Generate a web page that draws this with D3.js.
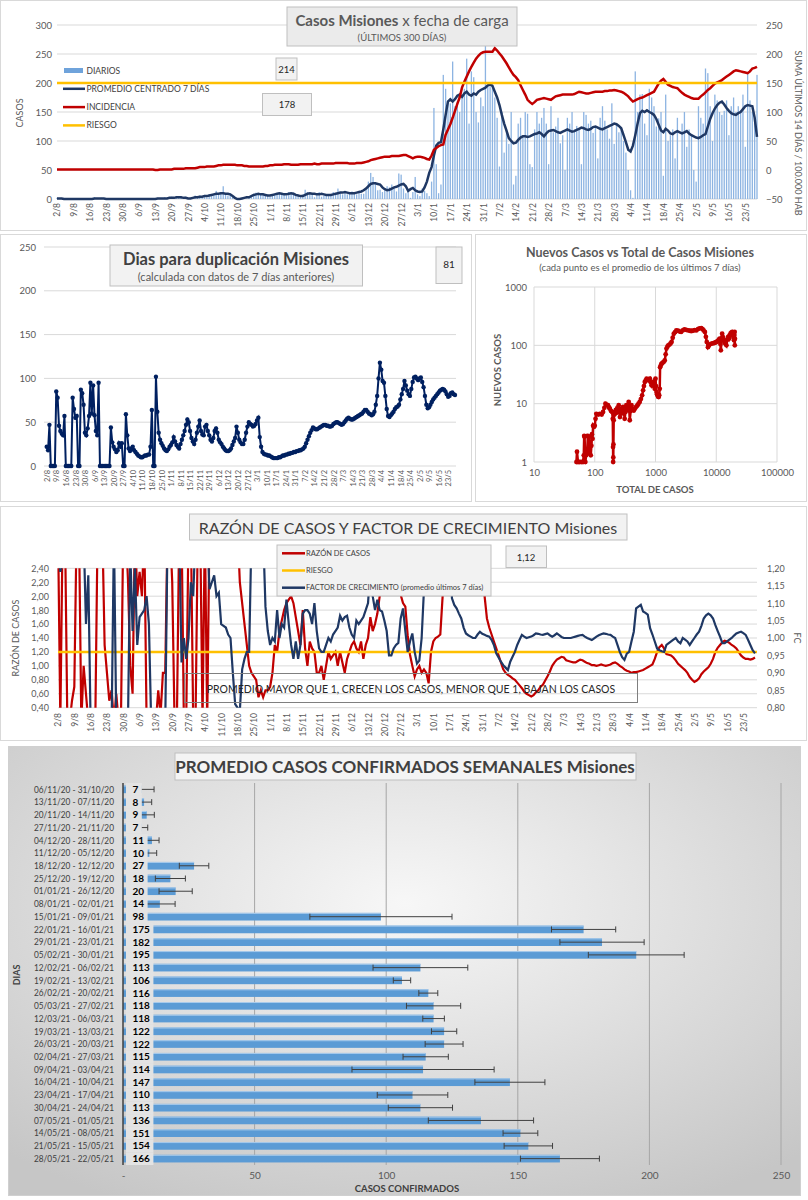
<!DOCTYPE html>
<html>
<head>
<meta charset="utf-8">
<script src="https://cdn.jsdelivr.net/npm/d3@7"></script>
<style>
  body { margin: 0; background: #fff; }
  svg { display: block; font-family: Lato, "Open Sans", sans-serif; }
</style>
</head>
<body>
<svg id="chart" width="808" height="1200"></svg>
<script>
// ---------- datos ----------
const inicio = new Date(2020, 7, 2);
const fechas = d3.timeDay.range(inicio, new Date(2021, 4, 29)); // 2/8/20 .. 28/5/21 (300 días)

// casos diarios (por mes: ago, sep, oct, nov, dic, ene, feb, mar, abr, may)
const diarios = [
  2,0,1,0,0,0,0,0,1,0,0,0,0,0,0,0,3,0,1,2,0,0,0,1,0,0,0,0,0,1,
  0,0,0,0,0,0,0,0,1,0,0,0,0,2,0,1,3,0,2,4,1,5,3,2,0,4,0,1,3,6,
  2,6,4,7,3,8,5,9,14,8,12,22,10,6,9,4,1,0,0,2,3,1,5,7,9,11,10,8,9,6,5,
  4,6,9,7,10,8,9,6,12,8,11,6,4,5,8,16,12,10,9,3,9,12,4,6,7,5,6,12,9,18,
  10,8,12,8,9,13,12,8,10,9,9,18,30,45,38,28,15,16,12,15,22,20,25,19,13,44,42,18,10,12,2,
  12,38,8,5,18,14,10,5,30,157,60,10,25,214,190,170,165,237,160,168,150,175,190,242,130,220,210,150,132,175,160,
  264,196,193,202,175,140,56,150,80,120,95,150,25,40,130,140,110,150,147,60,55,120,150,130,140,157,130,60,
  160,115,125,140,96,110,50,140,130,150,120,126,120,60,150,145,130,135,114,125,70,140,160,135,120,104,165,95,130,115,120,
  100,80,50,15,2,220,150,180,181,130,110,190,175,160,125,139,150,40,180,100,110,120,70,140,50,130,150,90,120,111,
  50,30,160,140,130,225,217,160,100,180,170,150,145,152,170,110,160,175,150,160,153,180,90,219,170,150,139,214
];

// promedio centrado 7 días
const promedio7 = [
  1,1,1,0,0,0,0,0,0,0,0,0,0,0,0,0,1,1,1,1,1,0,0,0,0,0,0,0,0,0,
  0,0,0,0,0,0,0,0,0,0,0,0,0,1,1,1,1,1,2,2,2,3,3,3,2,2,1,1,2,3,
  3,4,4,5,5,6,7,8,9,9,10,10,9,9,8,5,2,0,0,1,2,3,3,5,7,8,9,8,8,7,6,
  6,7,8,9,10,9,8,8,9,10,9,7,6,5,5,7,9,10,9,9,8,8,9,8,7,7,7,8,9,10,
  11,11,12,11,10,10,10,11,12,13,15,18,22,26,27,27,26,25,20,17,15,16,18,20,21,23,25,26,22,14,17,
  19,15,13,12,13,20,30,45,55,75,92,97,98,120,145,168,172,168,172,178,180,176,182,185,180,178,182,180,185,188,190,
  192,196,197,195,185,175,162,145,130,118,105,100,96,97,102,106,108,108,107,108,110,112,113,115,112,108,113,117,
  118,119,117,115,114,116,118,120,118,116,117,119,121,123,122,120,119,121,124,125,123,121,120,122,124,126,128,130,129,126,122,
  110,98,85,82,92,110,130,148,152,150,153,150,148,145,138,128,118,115,121,118,113,112,115,117,115,113,115,117,113,110,
  108,106,105,107,110,112,125,138,148,156,162,166,168,163,157,152,148,146,145,148,150,155,160,162,161,160,140,107
];

// incidencia: suma últimos 14 días / 100.000 hab
const incidencia = [
  1,1,1,1,1,1,1,1,1,1,1,1,1,1,1,1,1,1,1,1,1,1,1,1,1,1,1,1,1,1,
  1,1,1,1,1,1,1,1,1,1,1,1,0,0,1,1,1,1,1,1,2,2,2,2,2,3,3,3,3,3,
  4,5,5,5,6,6,6,6,7,8,8,9,9,9,9,9,9,8,8,8,7,7,6,6,6,6,6,6,6,7,7,
  8,8,9,9,9,9,10,10,10,9,9,9,9,10,10,10,10,10,10,11,10,10,11,11,11,11,11,11,12,12,
  12,12,12,12,11,11,11,12,12,12,13,14,15,17,18,19,20,21,22,23,23,23,24,24,24,24,25,26,26,24,22,
  20,22,23,23,22,21,19,18,25,35,38,41,43,44,61,70,79,90,102,114,125,142,152,161,170,178,185,192,197,201,203,
  204,204,204,204,210,206,201,196,190,184,177,170,164,160,155,146,138,130,121,117,114,117,121,122,123,124,123,122,
  121,124,127,128,129,130,130,130,130,130,131,133,135,134,133,132,132,133,134,135,135,135,135,136,136,137,137,138,137,136,135,
  133,130,127,122,118,120,122,124,125,127,129,131,133,135,142,149,154,157,152,147,145,143,142,141,137,133,130,128,126,124,
  123,123,123,127,130,134,138,141,145,149,151,153,155,158,161,164,167,170,172,171,170,169,168,167,170,175,176,178
];
const riesgoIncidencia = 150;

// días para duplicación
const duplicacion = [
  22,18,47,0,0,0,0,85,78,46, 40,37,35,57,0,0,0,0,0,78, 65,55,57,0,0,87,83,70,38,35,
  43,57,95,60,92,58,40,35,95,0, 0,0,0,0,0,0,0,44,27,22, 19,16,18,26,22,26,0,0,59,35,
  20,17,20,22,18,16,14,12,11,10, 10,11,12,12,13,13,22,64,0,0, 102,62,38,30,26,23,20,18,17,19,
  22,24,27,33,28,24,22,20,25,30, 35,40,47,53,50,40,32,28,25,30, 38,45,52,40,36,35,45,47,40,35,
  30,28,32,40,43,38,30,27,25,22, 20,18,17,17,18,20,24,28,32,45, 38,30,27,25,25,30,38,45,50,48,
  47,45,46,48,52,55,33,22,16,14, 13,13,12,12,11,10,9,9,9,9, 10,10,11,12,12,13,13,14,14,15,
  15,16,16,17,17,18,18,19,20,22, 26,30,34,38,41,44,43,42,42,43, 44,45,46,47,47,46,46,45,45,46,
  48,49,50,50,49,48,47,48,50,52, 54,55,54,53,53,54,55,56,57,58, 59,60,62,64,64,62,60,59,58,59,
  62,70,80,100,118,110,97,95,80,65, 57,56,58,60,62,65,67,68,70,76, 82,88,97,92,86,82,80,88,96,101,
  102,100,98,100,101,96,90,80,70,66, 67,70,73,76,78,80,82,84,86,87, 88,87,85,82,79,80,83,84,82,81
];

// [total de casos, nuevos casos (promedio 7 días)]
const nuevosVsTotal = [
  [50,1],[51,1.5],[53,1],[56,1],[60,1],[64,1],[66,1.3],[67,2.8],[68,2.7],[70,1],[72,1.3],[75,1.4],
  [77,2.8],[80,2.7],[82,1.5],[84,2.2],[86,1.3],[88,1.9],[90,3],[92,2.5],[94,4.2],[97,4],[100,4.2],
  [103,5.5],[106,6.7],[114,6.5],[121,6.7],[130,6.5],[137,7.2],[144,8.5],[150,10],[158,9.5],[165,9.4],
  [172,8.6],[177,8.2],[185,7.5],[193,7.2],[198,5.5],[200,1.8],[201,1],[202,1.2],[203,2],[205,5.2],
  [210,6.5],[214,6.7],[222,7.8],[230,7],[236,7.2],[242,8.5],[248,9.4],[254,7.5],[260,5.9],[268,7],
  [275,8.2],[283,6.8],[292,8.8],[300,7.5],[311,5.5],[320,7.2],[331,9.4],[342,8.5],[354,7.7],[362,10.7],
  [370,7.8],[377,5.2],[390,7.5],[402,9.4],[420,8],[440,7.6],[455,8.2],[470,8.6],[490,9],[505,9.4],
  [525,10],[550,10.7],[575,12],[602,13.9],[625,16.9],[645,20],[667,23.5],[690,25],[714,26.8],[740,26],
  [770,25],[808,26.8],[835,23],[860,20.6],[885,22],[912,23.5],[940,20],[972,18],[1000,26.8],[1020,20],
  [1039,15.8],[1060,14.5],[1080,13.9],[1105,13.2],[1129,13],[1150,14],[1175,18],[1190,42],[1220,45],
  [1250,48],[1300,50],[1360,52],[1420,55],[1470,70],[1515,88],[1570,95],[1625,100],[1700,103],[1770,108],
  [1840,114],[1920,135],[2000,158],[2100,168],[2200,180],[2350,178],[2500,172],[2640,170],[2800,180],
  [2990,188],[3200,184],[3450,180],[3700,178],[3870,176],[4100,178],[4400,182],[4700,180],[5000,190],
  [5300,195],[5670,198],[5950,190],[6200,180],[6500,170],[6750,140],[6980,114],[7300,93],[7600,100],
  [7900,104],[8330,107],[8800,108],[9300,110],[9700,112],[10100,114],[10500,118],[11000,125],[11400,130],
  [11700,105],[11900,82],[12200,120],[12500,158],[12800,140],[13100,130],[13500,122],[13900,110],
  [14300,105],[14700,100],[15200,125],[15700,140],[16200,130],[16700,148],[17200,160],[17700,165],
  [18300,170],[18800,150],[19200,135],[19600,122],[19900,150],[20100,170],[20200,100],[20300,130]
];

// razón de casos (eje izq.) y factor de crecimiento (eje der.)
const razon = [
  3,0.2,3,3,0.2,0.2,0.5,0.7,3,3, 0.2,1.0,0.6,0.2,0.2,0.2,0.2,3,3,3, 1.3,0.9,0.5,0.65,0.2,0.6,0.2,0.2,3,3,
  2.25,1.0,0.6,3,2.0,2.35,2.0,3,0.2,0.2, 0.2,0.2,0.2,0.65,0.3,0.9,0.9,3,3,2.2, 0.2,0.2,3,3,0.2,0.2,3,3,0.2,0.2,
  3,3,0.2,3,0.2,3,3,3,3,3, 3,3,3,3,3,3,3,3,2.2,1.9, 1.6,1.3,1.0,0.9,0.85,0.8,0.55,0.65,0.55,0.65,
  0.65,0.7,0.9,1.3,1.2,1.5,1.65,1.8,1.9,1.95, 2.0,1.9,1.7,1.5,1.3,1.8,1.25,1.0,1.35,1.25, 1.2,0.9,0.9,1.0,0.8,1.0,1.2,1.1,1.15,1.2,
  1.0,1.2,1.05,0.9,1.1,1.2,1.3,1.35,1.25,1.2, 1.35,1.1,1.3,1.4,1.7,1.5,1.6,1.75,2.0,2.3, 3,3,3,3,3,3,2.3,2.02,1.9,1.85,
  1.44,1.16,1.0,0.85,0.95,1.0,0.9,0.95,0.9,0.75, 1.2,1.35,1.4,1.42,1.45,2.0,3,3,3,3, 3,3,3,3,3,3,3,3,3,3,
  3,3,3,2.0,1.68,1.55,1.45,1.35,1.25,1.15, 1.05,0.95,0.9,0.87,0.85,0.82,0.8,0.76,0.72,0.68, 0.63,0.6,0.58,0.56,0.58,0.62,0.65,0.7,0.73,0.79,
  0.85,0.92,1.0,1.05,1.09,1.11,1.13,1.12,1.08,1.07, 1.06,1.05,1.05,1.07,1.09,1.08,1.06,1.04,1.03,1.01, 1.01,1.0,1.01,1.02,1.01,1.0,1.01,1.02,1.04,1.05,
  1.03,1.0,0.98,0.95,0.93,0.92,0.9,0.91,0.91,0.92, 0.93,0.94,0.96,0.98,1.0,1.02,1.1,1.2,1.27,1.3, 1.25,1.17,1.16,1.15,1.12,1.08,1.03,1.0,0.97,0.94,
  0.9,0.84,0.8,0.77,0.79,0.82,0.88,0.92,0.95,0.98, 1.03,1.1,1.2,1.26,1.3,1.34,1.36,1.35,1.33,1.3, 1.28,1.25,1.2,1.15,1.12,1.1,1.1,1.09,1.1,1.12
];
const factor = [
  1.25,1.19,1.22,1.3,1.3,1.3,1.3,1.3,1.3,1.3, 1.3,1.3,1.04,1.18,0.75,0.75,0.75,0.75,0.75,0.75, 0.75,0.75,0.75,0.75,1.3,0.75,0.75,0.75,0.75,0.75,
  0.75,1.25,1.02,1.2,0.98,1.06,1.07,1.08,1.12,1.04, 0.75,0.75,0.75,0.75,0.75,0.75,0.75,1.3,1.3,1.3, 1.3,1.3,1.3,0.93,1.0,0.94,1.0,1.16,1.12,1.3,
  1.3,1.3,1.3,1.3,1.3,1.14,1.16,1.18,1.12,1.13, 1.04,1.035,1.03,1.01,1.0,0.9,0.81,0.8,0.79,0.91, 0.94,0.96,0.96,1.3,1.3,1.3,1.3,1.3,1.3,1.09,
  1.02,0.98,1.0,0.99,1.08,1.0,1.04,1.03,1.11,1.04, 0.98,0.94,0.99,0.94,0.98,1.07,1.08,1.08,1.07,1.04, 1.1,1.02,0.97,0.96,0.96,0.98,1.0,0.99,1.01,1.02,
  1.03,1.064,1.05,1.06,1.064,1.03,1.01,1.0,1.05,1.04, 1.05,1.06,1.08,1.1,1.2,1.12,1.08,1.11,1.08,1.076, 1.05,1.02,0.95,0.95,0.97,0.98,0.986,1.056,1.085,1.02,
  0.96,0.99,1.013,0.96,0.927,0.935,1.0,1.14,1.3,1.3, 1.3,1.3,1.3,1.3,1.3,1.3,1.3,1.3,1.3,1.114, 1.095,1.085,1.07,1.056,1.03,1.013,1.008,1.004,1.0,1.0,
  1.01,1.018,1.012,1.009,1.006,1.004,0.995,0.98,0.956,0.944, 0.932,0.922,0.915,0.908,0.932,0.946,0.96,0.98,0.995,1.009, 1.004,1.0,1.002,1.004,1.008,1.013,1.012,1.01,1.009,1.011,
  1.013,1.008,1.004,1.008,1.013,1.008,1.003,1.0,1.0,1.0, 1.0,1.002,1.004,1.006,1.008,1.009,1.004,1.0,0.997,0.994, 0.999,1.004,1.008,1.011,1.013,1.012,1.01,1.009,1.004,1.0,
  0.98,0.96,0.945,0.937,0.955,0.96,0.99,1.018,1.085,1.09, 1.095,1.076,1.072,1.067,1.028,1.01,0.99,0.97,0.965,0.962, 0.96,0.98,0.985,0.99,0.995,1.0,0.99,0.985,1.0,0.995,
  0.99,0.98,0.99,1.0,1.01,1.018,1.035,1.056,1.065,1.07, 1.065,1.056,1.037,1.02,1.004,0.985,0.985,0.99,0.995,1.0, 1.007,1.013,1.016,1.018,1.014,1.009,0.995,0.98,0.965,0.956
];
const riesgoRazon = 1.2;

// promedio semanal
const semanas = ["06/11/20 - 31/10/20","13/11/20 - 07/11/20","20/11/20 - 14/11/20","27/11/20 - 21/11/20",
  "04/12/20 - 28/11/20","11/12/20 - 05/12/20","18/12/20 - 12/12/20","25/12/20 - 19/12/20","01/01/21 - 26/12/20",
  "08/01/21 - 02/01/21","15/01/21 - 09/01/21","22/01/21 - 16/01/21","29/01/21 - 23/01/21","05/02/21 - 30/01/21",
  "12/02/21 - 06/02/21","19/02/21 - 13/02/21","26/02/21 - 20/02/21","05/03/21 - 27/02/21","12/03/21 - 06/03/21",
  "19/03/21 - 13/03/21","26/03/21 - 20/03/21","02/04/21 - 27/03/21","09/04/21 - 03/04/21","16/04/21 - 10/04/21",
  "23/04/21 - 17/04/21","30/04/21 - 24/04/21","07/05/21 - 01/05/21","14/05/21 - 08/05/21","21/05/21 - 15/05/21",
  "28/05/21 - 22/05/21"];
const promSemanal = [7,8,9,7,11,10,27,18,20,14,98,175,182,195,113,106,116,118,118,122,122,115,114,147,110,113,136,151,154,166];
const errSemanal = [4.8,2.9,2.9,2.4,2.7,2.8,5.6,5.7,6.3,5.8,27,12.2,16,18.2,18,3.3,3.6,10.3,4.1,4.8,7.2,8.6,27,13.3,13.4,12.2,20,6.6,9.2,15];

// ticks
const casosTicks = [0,50,100,150,200,250,300];
const incidTicks = [-50,0,50,100,150,200,250];
const dupTicks = [0,50,100,150,200,250];
const logXTicks = [10,100,1000,10000,100000];
const logYTicks = [1,10,100,1000];
const razonTicks = [0.4,0.6,0.8,1.0,1.2,1.4,1.6,1.8,2.0,2.2,2.4];
const fcTicks = [0.8,0.85,0.9,0.95,1.0,1.05,1.1,1.15,1.2];
const semTicks = [0,50,100,150,200,250];
const semTickLabels = ["-","50","100","150","200","250"];

// ---------- estilos ----------
const svg = d3.select("#chart");
const gris = "#595959", grid = "#d9d9d9";
const azul = "#1f3864", rojo = "#c00000", amarillo = "#ffc000";
const fechasTicks = fechas.filter((d, i) => i % 7 === 0);
const fmtFecha = d3.timeFormat("%-d/%-m");
const es = d3.formatLocale({decimal: ",", thousands: ".", grouping: [3], currency: ["$", ""]});

function estiloEje(g, size, color) {
  g.attr("font-family", null).attr("font-size", size);
  g.select(".domain").remove();
  g.selectAll(".tick line").remove();
  g.selectAll("text").attr("fill", color || gris);
}
function ejeFechas(g, x, y, size) {
  const ax = g.append("g").attr("transform", `translate(0,${y})`)
    .call(d3.axisBottom(x).tickValues(fechasTicks).tickFormat(fmtFecha).tickSize(0));
  estiloEje(ax, size);
  ax.selectAll("text").attr("transform", "rotate(-90)").attr("text-anchor", "end")
    .attr("x", -2).attr("y", 0).attr("dy", "0.35em");
}
function caja(x, y, w, h, fill) {
  return svg.append("rect").attr("x", x).attr("y", y).attr("width", w).attr("height", h)
    .attr("fill", fill || "#f2f2f2").attr("stroke", "#bfbfbf");
}
function texto(x, y, s, size, opts = {}) {
  return svg.append("text").attr("x", x).attr("y", y).text(s)
    .attr("font-size", size).attr("fill", opts.fill || gris)
    .attr("font-weight", opts.bold ? "bold" : null)
    .attr("text-anchor", opts.anchor || "middle")
    .attr("transform", opts.rot ? `rotate(${opts.rot},${x},${y})` : null);
}
function hgrid(g, ticks, y, x0, x1) {
  g.append("g").selectAll("line").data(ticks).join("line")
    .attr("x1", x0).attr("x2", x1).attr("y1", d => y(d)).attr("y2", d => y(d))
    .attr("stroke", grid);
}

// marcos de paneles
svg.append("rect").attr("x", 0.5).attr("y", 0.5).attr("width", 806).attr("height", 230).attr("fill", "#fff").attr("stroke", grid);
svg.append("rect").attr("x", 0.5).attr("y", 234.5).attr("width", 471).attr("height", 267).attr("fill", "#fff").attr("stroke", grid);
svg.append("rect").attr("x", 475.5).attr("y", 234.5).attr("width", 331).attr("height", 267).attr("fill", "#fff").attr("stroke", grid);
svg.append("rect").attr("x", 0.5).attr("y", 506.5).attr("width", 806).attr("height", 234).attr("fill", "#fff").attr("stroke", grid);

// ---------- panel 1: casos diarios ----------
const x1 = d3.scaleTime().domain([fechas[0], fechas[fechas.length - 1]]).range([57, 757]);
const y1 = d3.scaleLinear().domain([0, 300]).range([199, 25]);
const y1r = d3.scaleLinear().domain([-50, 250]).range([199, 25]);
const g1 = svg.append("g");
hgrid(g1, casosTicks, y1, 57, 757);
g1.append("g").attr("transform", "translate(52,0)")
  .call(d3.axisLeft(y1).tickValues(casosTicks).tickSize(0).tickPadding(0)).call(estiloEje, 9.5);
g1.append("g").attr("transform", "translate(763,0)")
  .call(d3.axisRight(y1r).tickValues(incidTicks).tickSize(0).tickPadding(3)).call(estiloEje, 9.5);
ejeFechas(g1, x1, 201, 8.5);

g1.append("g").attr("fill", "#8db4e2").selectAll("rect").data(diarios).join("rect")
  .attr("x", (d, i) => x1(fechas[i]) - 0.65).attr("width", 1.3)
  .attr("y", d => y1(d)).attr("height", d => y1(0) - y1(d));
g1.append("path").datum(promedio7)
  .attr("d", d3.line().x((d, i) => x1(fechas[i])).y(d => y1(d)))
  .attr("fill", "none").attr("stroke", azul).attr("stroke-width", 2.5);
g1.append("path").datum(incidencia)
  .attr("d", d3.line().x((d, i) => x1(fechas[i])).y(d => y1r(d)))
  .attr("fill", "none").attr("stroke", rojo).attr("stroke-width", 2.5);
g1.append("line").attr("x1", 57).attr("x2", 757).attr("y1", y1r(riesgoIncidencia)).attr("y2", y1r(riesgoIncidencia))
  .attr("stroke", amarillo).attr("stroke-width", 2.5);

texto(23, 113, "CASOS", 9, {rot: -90});
texto(795, 133, "SUMA  ÚLTIMOS 14 DÍAS / 100.000 HAB", 9, {rot: 90});

// leyenda
const ley1 = [
  {t: "DIARIOS", c: "#6fa3db", bar: true}, {t: "PROMEDIO CENTRADO 7 DÍAS", c: azul},
  {t: "INCIDENCIA", c: rojo}, {t: "RIESGO", c: amarillo}];
ley1.forEach((d, i) => {
  const y = 70.5 + i * 18.3;
  if (d.bar) svg.append("rect").attr("x", 64).attr("y", y - 2.5).attr("width", 19).attr("height", 5).attr("fill", d.c);
  else svg.append("line").attr("x1", 63).attr("x2", 85).attr("y1", y).attr("y2", y).attr("stroke", d.c).attr("stroke-width", 2.5);
  texto(86.5, y + 3, d.t, 8.5, {anchor: "start", fill: "#404040"});
});
caja(276, 58, 21, 22); texto(286.5, 72.5, "214", 9.5, {fill: "#262626"});
caja(262.5, 93.5, 49, 22); texto(287, 108, "178", 9.5, {fill: "#262626"});
caja(287, 7, 230, 39, "#ebebeb");
const t1 = texto(402, 26, "", 15);
t1.append("tspan").attr("font-weight", "bold").text("Casos Misiones");
t1.append("tspan").text("  x fecha de carga");
texto(402, 41, "(ÚLTIMOS 300 DÍAS)", 9.5);

// ---------- panel 2: días para duplicación ----------
const x2 = d3.scaleTime().domain([fechas[0], fechas[fechas.length - 1]]).range([46.7, 455]);
const y2 = d3.scaleLinear().domain([0, 250]).range([466, 247]);
const g2 = svg.append("g");
hgrid(g2, dupTicks, y2, 44, 456);
g2.append("g").attr("transform", "translate(36,0)")
  .call(d3.axisLeft(y2).tickValues(dupTicks).tickSize(0).tickPadding(0)).call(estiloEje, 9.5);
ejeFechas(g2, x2, 468, 7.5);
g2.append("path").datum(duplicacion)
  .attr("d", d3.line().x((d, i) => x2(fechas[i])).y(d => y2(d)))
  .attr("fill", "none").attr("stroke", "#002060").attr("stroke-width", 2);
g2.append("g").attr("fill", "#002060").selectAll("circle").data(duplicacion).join("circle")
  .attr("cx", (d, i) => x2(fechas[i])).attr("cy", d => y2(d)).attr("r", 2.2);
caja(110, 245, 252.5, 41);
texto(236, 265, "Dias para duplicación Misiones", 16.5, {bold: true, fill: "#404040"});
texto(236, 281, "(calculada con datos de 7 días anteriores)", 11);
caja(436, 247, 26, 36.5); texto(449, 268, "81", 10, {fill: "#262626"});

// ---------- panel 3: nuevos vs total ----------
const x3 = d3.scaleLog().domain([10, 100000]).range([534, 777]);
const y3 = d3.scaleLog().domain([1, 1000]).range([462, 287]);
const g3 = svg.append("g");
hgrid(g3, logYTicks, y3, 534, 777);
g3.append("g").selectAll("line").data(logXTicks).join("line")
  .attr("x1", d => x3(d)).attr("x2", d => x3(d)).attr("y1", 287).attr("y2", 462).attr("stroke", grid);
g3.append("g").attr("transform", "translate(0,466)")
  .call(d3.axisBottom(x3).tickValues(logXTicks).tickFormat(d3.format("d")).tickSize(0)).call(estiloEje, 9.5);
g3.append("g").attr("transform", "translate(527,0)")
  .call(d3.axisLeft(y3).tickValues(logYTicks).tickFormat(d3.format("d")).tickSize(0).tickPadding(0)).call(estiloEje, 9.5);
g3.append("path").datum(nuevosVsTotal)
  .attr("d", d3.line().x(d => x3(d[0])).y(d => y3(d[1])))
  .attr("fill", "none").attr("stroke", rojo).attr("stroke-width", 2.5);
g3.append("g").attr("fill", rojo).selectAll("circle").data(nuevosVsTotal).join("circle")
  .attr("cx", d => x3(d[0])).attr("cy", d => y3(d[1])).attr("r", 2.4);
texto(640, 257, "Nuevos Casos vs Total de Casos Misiones", 12.5, {bold: true});
texto(640, 271, "(cada punto es el promedio de los últimos 7 días)", 9.5);
texto(655, 493, "TOTAL DE CASOS", 9.5, {bold: true});
texto(501, 370, "NUEVOS CASOS", 9.5, {bold: true, rot: -90});

// ---------- panel 4: razón de casos y factor de crecimiento ----------
const x4 = d3.scaleTime().domain([fechas[0], fechas[fechas.length - 1]]).range([58, 755]);
const y4 = d3.scaleLinear().domain([0.4, 2.4]).range([707.7, 568.3]);
const y4r = d3.scaleLinear().domain([0.8, 1.2]).range([707.7, 568.3]);
const g4 = svg.append("g");
hgrid(g4, razonTicks, y4, 58, 757);
g4.append("g").attr("transform", "translate(49,0)")
  .call(d3.axisLeft(y4).tickValues(razonTicks).tickFormat(es.format(".2f")).tickSize(0).tickPadding(0)).call(estiloEje, 9);
g4.append("g").attr("transform", "translate(764,0)")
  .call(d3.axisRight(y4r).tickValues(fcTicks).tickFormat(es.format(".2f")).tickSize(0).tickPadding(3)).call(estiloEje, 9);
ejeFechas(g4, x4, 711, 8.5);
svg.append("clipPath").attr("id", "clip4").append("rect")
  .attr("x", 56).attr("y", 568.3).attr("width", 703).attr("height", 139.4);
const l4 = g4.append("g").attr("clip-path", "url(#clip4)");
l4.append("path").datum(razon)
  .attr("d", d3.line().x((d, i) => x4(fechas[i])).y(d => y4(d)))
  .attr("fill", "none").attr("stroke", rojo).attr("stroke-width", 2.2);
l4.append("line").attr("x1", 58).attr("x2", 757).attr("y1", y4(riesgoRazon)).attr("y2", y4(riesgoRazon))
  .attr("stroke", amarillo).attr("stroke-width", 2.5);
l4.append("path").datum(factor)
  .attr("d", d3.line().x((d, i) => x4(fechas[i])).y(d => y4r(d)))
  .attr("fill", "none").attr("stroke", azul).attr("stroke-width", 2.2);
texto(19, 638, "RAZÓN DE CASOS", 9, {rot: -90});
texto(794, 638, "FC", 9, {rot: 90});
svg.append("rect").attr("x", 184.5).attr("y", 673.5).attr("width", 453).attr("height", 29)
  .attr("fill", "none").attr("stroke", "#7f7f7f");
texto(411, 693, "PROMEDIO MAYOR QUE 1, CRECEN LOS CASOS, MENOR QUE 1, BAJAN LOS CASOS", 10.5, {fill: "#262626"});
caja(277, 545, 214, 51);
[{t: "RAZÓN DE CASOS", c: rojo}, {t: "RIESGO", c: amarillo},
 {t: "FACTOR DE CRECIMIENTO (promedio últimos 7 días)", c: azul}].forEach((d, i) => {
  const y = 553.3 + i * 17.2;
  svg.append("line").attr("x1", 282).attr("x2", 305).attr("y1", y).attr("y2", y).attr("stroke", d.c).attr("stroke-width", 2.5);
  texto(306, y + 2.7, d.t, 7.5, {anchor: "start", fill: "#404040"});
});
caja(506, 546, 40.5, 21.5); texto(526, 560.5, "1,12", 9.5, {fill: "#262626"});
caja(189.5, 514, 437.5, 26);
texto(408, 534, "RAZÓN DE CASOS Y FACTOR DE CRECIMIENTO Misiones", 16, {fill: "#404040"});

// ---------- panel 5: promedio semanal ----------
const defs = svg.append("defs");
const rg = defs.append("radialGradient").attr("id", "fondo5").attr("cx", "50%").attr("cy", "35%").attr("r", "75%");
rg.append("stop").attr("offset", "0%").attr("stop-color", "#f7f7f7");
rg.append("stop").attr("offset", "100%").attr("stop-color", "#c6c6c6");
svg.append("rect").attr("x", 8.5).attr("y", 746.5).attr("width", 792).attr("height", 449)
  .attr("fill", "url(#fondo5)").attr("stroke", "#d0d0d0");

const x5 = d3.scaleLinear().domain([0, 250]).range([123, 781]);
const y5 = d3.scaleBand().domain(semanas).range([783, 1165]).paddingInner(0.4).paddingOuter(0.2);
const g5 = svg.append("g");
g5.append("g").selectAll("line").data(semTicks.slice(1)).join("line")
  .attr("x1", d => x5(d)).attr("x2", d => x5(d)).attr("y1", 783).attr("y2", 1165)
  .attr("stroke", "#a6a6a6");
g5.append("g").attr("transform", "translate(0,1168)")
  .call(d3.axisBottom(x5).tickValues(semTicks).tickFormat((d, i) => semTickLabels[i]).tickSize(0).tickPadding(4))
  .call(estiloEje, 10);
g5.append("g").attr("transform", "translate(123,0)")
  .call(d3.axisLeft(y5).tickSize(0).tickPadding(9)).call(estiloEje, 10, "#404040")
  .call(g => g.selectAll("text").attr("textLength", 80).attr("lengthAdjust", "spacingAndGlyphs"));

const filas = semanas.map((s, i) => ({s, v: promSemanal[i], e: errSemanal[i]}));
g5.append("g").attr("fill", "#5b9bd5").selectAll("rect").data(filas).join("rect")
  .attr("x", x5(0)).attr("y", d => y5(d.s)).attr("width", d => x5(d.v) - x5(0)).attr("height", y5.bandwidth());
g5.append("g").attr("fill", "#a9cbeb").selectAll("rect").data(filas).join("rect")
  .attr("x", x5(0)).attr("y", d => y5(d.s)).attr("width", d => x5(d.v) - x5(0)).attr("height", 1);

const eb = g5.append("g").attr("stroke", "#404040").attr("stroke-width", 1);
filas.forEach(d => {
  const yc = y5(d.s) + y5.bandwidth() / 2;
  eb.append("line").attr("x1", x5(d.v - d.e)).attr("x2", x5(d.v + d.e)).attr("y1", yc).attr("y2", yc);
  [d.v - d.e, d.v + d.e].forEach(v =>
    eb.append("line").attr("x1", x5(v)).attr("x2", x5(v)).attr("y1", yc - 3).attr("y2", yc + 3));
});

const lab = g5.append("g");
filas.forEach(d => {
  const yc = y5(d.s) + y5.bandwidth() / 2;
  const bg = lab.append("rect").attr("x", 126).attr("y", yc - y5.step() / 2).attr("height", y5.step()).attr("fill", "#e3e3e3");
  const t = lab.append("text").attr("x", 132.5).attr("y", yc + 3.5).text(d.v)
    .attr("font-size", 10).attr("font-weight", "bold").attr("fill", "#000");
  bg.attr("width", t.node().getComputedTextLength() + 10);
});
svg.append("line").attr("x1", 123).attr("x2", 123).attr("y1", 783).attr("y2", 1165).attr("stroke", "#404040").attr("stroke-width", 1.5);

caja(175, 753, 461, 27, "#f4f4f4");
texto(405, 773, "PROMEDIO CASOS CONFIRMADOS SEMANALES Misiones", 17, {bold: true, fill: "#404040"});
texto(407, 1192, "CASOS CONFIRMADOS", 9.5, {bold: true, fill: "#404040"});
texto(20, 975, "DIAS", 9, {bold: true, fill: "#404040", rot: -90});
</script>
</body>
</html>
